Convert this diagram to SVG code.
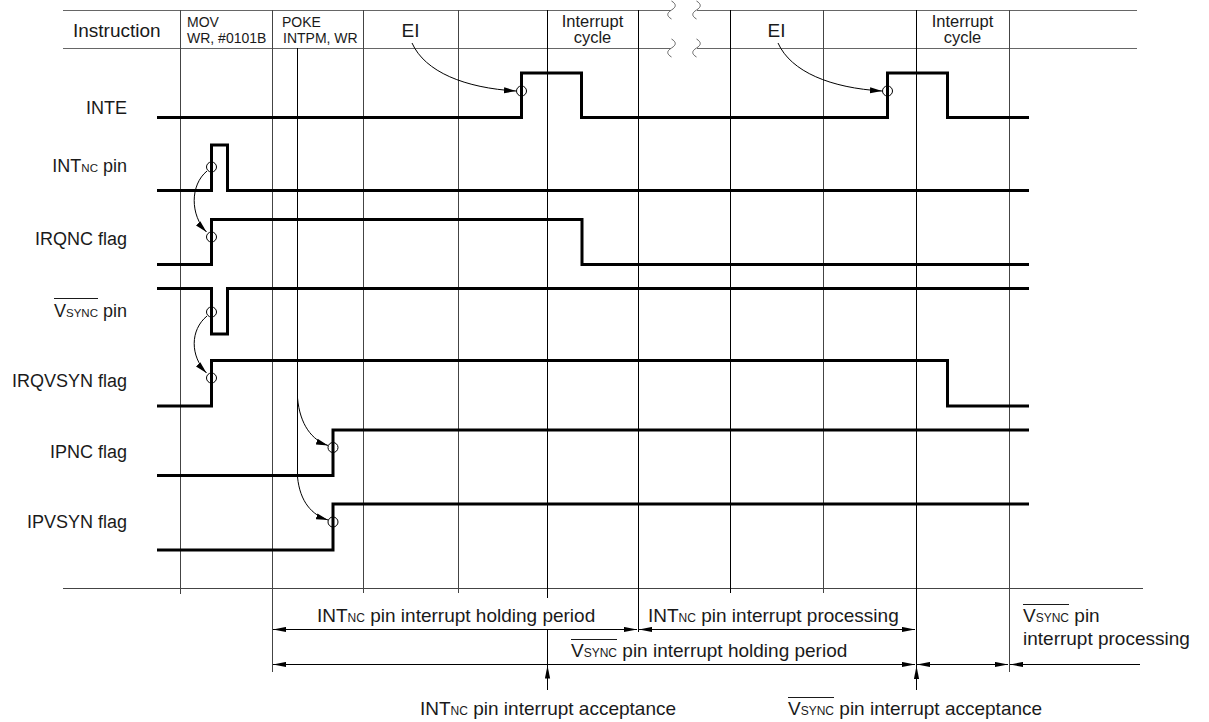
<svg xmlns="http://www.w3.org/2000/svg" width="1209" height="722" viewBox="0 0 1209 722">
<style>
text{font-family:"Liberation Sans",Arial,sans-serif;fill:#1a1a1a}
.lab{font-size:18px;text-anchor:end}
.big{font-size:19px}
.hd{font-size:14px}
.ic{font-size:16.5px;text-anchor:middle}
.g{stroke:#444;stroke-width:1;fill:none}
.gk{stroke:#000;stroke-width:1;fill:none}
.h{stroke:#666;stroke-width:1;fill:none}
.sig{stroke:#000;stroke-width:3;fill:none;stroke-linejoin:miter;stroke-linecap:butt}
.c{stroke:#000;stroke-width:1;fill:none}
.arc{stroke:#000;stroke-width:1;fill:none;marker-end:url(#ahc)}
.dim{stroke:#000;stroke-width:1;fill:none;marker-start:url(#ah);marker-end:url(#ah)}
.ov{stroke:#1a1a1a;stroke-width:1}
</style>
<defs>
<marker id="ah" markerWidth="13" markerHeight="6" refX="13" refY="3" orient="auto-start-reverse" markerUnits="userSpaceOnUse"><path d="M0,0.4 L13,3 L0,5.6 z" fill="#000"/></marker>
<marker id="ahc" markerWidth="12" markerHeight="7" refX="12" refY="3.5" orient="auto" markerUnits="userSpaceOnUse"><path d="M0,0.5 L12,3.5 L0,6.5 z" fill="#000"/></marker>
</defs>
<rect width="1209" height="722" fill="#fff"/>

<g id="grid">
<path class="h" d="M63,10.5 H671 M697,10.5 H1137 M63,48.5 H671 M697,48.5 H1137"/>
<path class="g" d="M63,588.5 H1143"/>
<path class="g" d="M180.5,10 V594 M272.5,10 V672 M363.5,10 V593 M458.5,10 V593 M823.5,10 V593 M1009.5,10 V672"/>
<path class="gk" d="M297.5,48 V477 M547.5,10 V598 M638.5,10 V632 M730.5,10 V593 M916.5,10 V690"/>
<path class="h" d="M671.5,1 C676.5,4 676.5,7 671.5,10 C666.5,13 666.5,16 671.5,19 M696.5,1 C701.5,4 701.5,7 696.5,10 C691.5,13 691.5,16 696.5,19 M671.5,39 C676.5,42 676.5,45 671.5,48 C666.5,51 666.5,54 671.5,57 M696.5,39 C701.5,42 701.5,45 696.5,48 C691.5,51 691.5,54 696.5,57"/>
</g>

<g id="header">
<text class="big" x="73" y="36.5">Instruction</text>
<text class="hd" x="187" y="26.5">MOV</text>
<text class="hd" x="187" y="43">WR, #0101B</text>
<text class="hd" x="282" y="26.5">POKE</text>
<text class="hd" x="283" y="43">INTPM, WR</text>
<text class="big" x="410.5" y="36.5" text-anchor="middle">EI</text>
<text class="ic" x="592.5" y="26.5">Interrupt</text>
<text class="ic" x="592.5" y="43">cycle</text>
<text class="big" x="776.5" y="36.5" text-anchor="middle">EI</text>
<text class="ic" x="962.5" y="26.5">Interrupt</text>
<text class="ic" x="962.5" y="43">cycle</text>
</g>

<g id="sig-inte">
<text class="lab" x="127" y="114">INTE</text>
<path class="sig" d="M157,117.5 H521.5 V73 H581.5 V117.5 H887.5 V73 H947.5 V117.5 H1029"/>
<circle class="c" cx="521.5" cy="91" r="5"/>
<circle class="c" cx="887.5" cy="91" r="5"/>
</g>
<g id="sig-intnc">
<text class="lab" x="127" y="172">INT<tspan font-size="11.5">NC</tspan> pin</text>
<path class="sig" d="M157,190.5 H211.5 V145 H227.5 V190.5 H1029"/>
<circle class="c" cx="211.5" cy="167" r="5"/>
</g>
<g id="sig-irqnc">
<text class="lab" x="127" y="245">IRQNC flag</text>
<path class="sig" d="M157,264.5 H211.5 V219.5 H582 V264.5 H1029"/>
<circle class="c" cx="211.5" cy="237" r="5"/>
</g>
<g id="sig-vsync">
<text class="lab" x="127" y="317">V<tspan font-size="11.5">SYNC</tspan> pin</text>
<line class="ov" x1="54" y1="298.5" x2="98" y2="298.5"/>
<path class="sig" d="M157,288.5 H211.5 V334 H227.5 V288.5 H1029"/>
<circle class="c" cx="211.5" cy="312" r="5"/>
</g>
<g id="sig-irqvsyn">
<text class="lab" x="127" y="387">IRQVSYN flag</text>
<path class="sig" d="M157,406 H211.5 V360.5 H947.5 V406 H1029"/>
<circle class="c" cx="211.5" cy="378" r="5"/>
</g>
<g id="sig-ipnc">
<text class="lab" x="127" y="458">IPNC flag</text>
<path class="sig" d="M157,475.5 H333 V430 H1029"/>
<circle class="c" cx="333" cy="447.5" r="5"/>
</g>
<g id="sig-ipvsyn">
<text class="lab" x="127" y="528">IPVSYN flag</text>
<path class="sig" d="M157,550 H333 V504 H1029"/>
<circle class="c" cx="333" cy="522" r="5"/>
</g>

<g id="connectors">
<path class="arc" d="M412,43 C425,72 465,88 516,91"/>
<path class="arc" d="M778,43 C791,72 831,88 882,91"/>
<path class="arc" d="M207,171 C190,185 190,215 206.5,232"/>
<path class="arc" d="M207,316 C190,330 190,356 206.5,373"/>
<path class="arc" d="M297.5,398 C300,425 312,440 328,445.5"/>
<path class="arc" d="M297.5,477 C300,502 312,515 328,520"/>
<path class="dim" d="M273,629.5 H637"/>
<path class="dim" d="M639,629.5 H915"/>
<path class="dim" d="M273,664.5 H915"/>
<path class="dim" d="M917,664.5 H1008"/>
<path class="c" d="M1140,664.5 H1010" marker-end="url(#ah)"/>
<path class="c" d="M547.5,629 V690"/>
<path class="c" d="M547.5,690 V665.5" marker-end="url(#ah)"/>
<path class="c" d="M916.5,690 V666" marker-end="url(#ah)"/>
</g>

<g id="annotations">
<text class="big" x="317" y="621.5">INT<tspan font-size="12">NC</tspan> pin interrupt holding period</text>
<text class="big" x="648" y="621.5">INT<tspan font-size="12">NC</tspan> pin interrupt processing</text>
<text class="big" x="571" y="656.5">V<tspan font-size="12">SYNC</tspan> pin interrupt holding period</text>
<line class="ov" x1="571" y1="639.5" x2="617" y2="639.5"/>
<text class="big" x="1023" y="621.5">V<tspan font-size="12">SYNC</tspan> pin</text>
<line class="ov" x1="1023" y1="604.5" x2="1069" y2="604.5"/>
<text class="big" x="1023" y="645">interrupt processing</text>
<text class="big" x="420" y="715">INT<tspan font-size="12">NC</tspan> pin interrupt acceptance</text>
<text class="big" x="788" y="715">V<tspan font-size="12">SYNC</tspan> pin interrupt acceptance</text>
<line class="ov" x1="788" y1="697.5" x2="834" y2="697.5"/>
</g>
</svg>
